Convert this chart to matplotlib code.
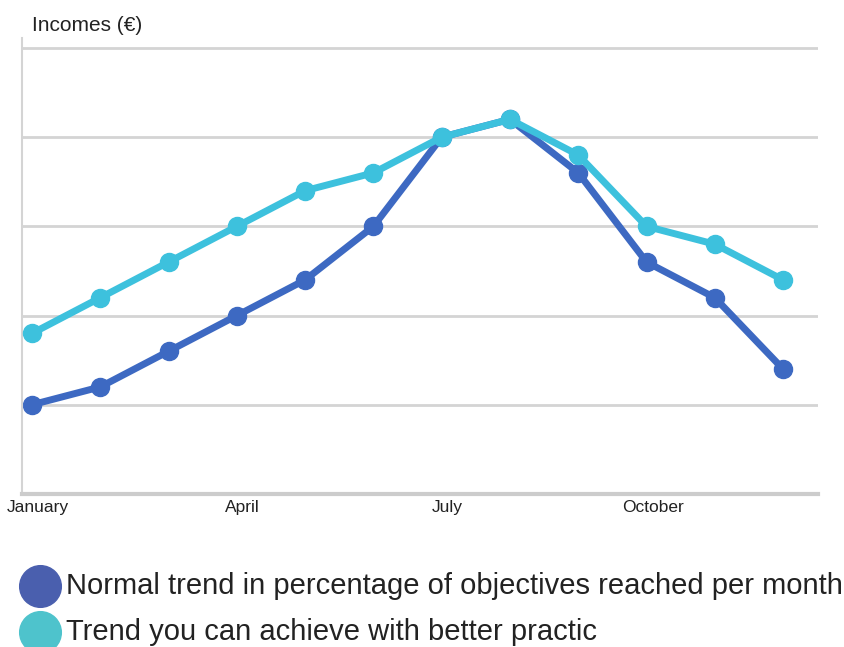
import matplotlib.pyplot as plt
import matplotlib.transforms as mtransforms

months = ["January", "February", "March", "April", "May", "June",
          "July", "August", "September", "October", "November", "December"]
tick_labels = ["January", "April", "July", "October"]
normal_trend = [1.0, 1.2, 1.6, 2.0, 2.4, 3.0, 4.0, 4.2, 3.6, 2.6, 2.2, 1.4]
better_trend = [1.8, 2.2, 2.6, 3.0, 3.4, 3.6, 4.0, 4.2, 3.8, 3.0, 2.8, 2.4]
legend_labels = ["Normal trend in percentage of objectives reached per month",
                 "Trend you can achieve with better practic"]

dark = "#3d69c2"
light = "#3dc1dd"
legend_colors = ["#4a5fae", "#4ec3cc"]

plt.rcParams["font.family"] = ["Liberation Sans", "DejaVu Sans"]

fig = plt.figure(figsize=(8.45, 6.47), dpi=100)
ax = fig.add_axes([0.026, 0.2365, 0.942, 0.7045])

x = list(range(len(months)))
ax.plot(x, better_trend, color=light, lw=5, marker="o", ms=13, zorder=3)
ax.plot(x, normal_trend, color=dark, lw=5, marker="o", ms=13, zorder=2)

ax.set_xlim(-0.146, 11.51)
ax.set_ylim(0, 5.11)
ax.set_yticks([1, 2, 3, 4, 5])
ax.set_yticklabels([])
ax.tick_params(axis="y", length=0)
ax.grid(axis="y", color="#d4d4d4", lw=2)
ax.set_axisbelow(True)

ax.set_xticks([months.index(m) for m in tick_labels])
ax.set_xticklabels(tick_labels, fontsize=12.5, color="#222222")
ax.tick_params(axis="x", length=0, pad=4)
shift = mtransforms.ScaledTranslation(6 / 100, 0, fig.dpi_scale_trans)
for lbl in ax.get_xticklabels():
    lbl.set_transform(lbl.get_transform() + shift)

for s in ["top", "right"]:
    ax.spines[s].set_visible(False)
ax.spines["left"].set_color("#d4d4d4")
ax.spines["left"].set_linewidth(1.5)
ax.spines["bottom"].set_color("#cccccc")
ax.spines["bottom"].set_linewidth(3)

fig.text(0.038, 0.961, "Incomes (€)", fontsize=15, va="center", ha="left",
         color="#222222")

# legend drawn by hand to match the spacing of the original
legend_y = [1 - 586 / 647, 1 - 632 / 647]
for label, color, y in zip(legend_labels, legend_colors, legend_y):
    fig.lines.append(plt.Line2D([40 / 845], [y], transform=fig.transFigure,
                                ls="none", marker="o", ms=30, color=color))
    fig.text(66 / 845, y, label, fontsize=21, va="center", ha="left",
             color="#222222")

fig.savefig("out.png", dpi=100)
